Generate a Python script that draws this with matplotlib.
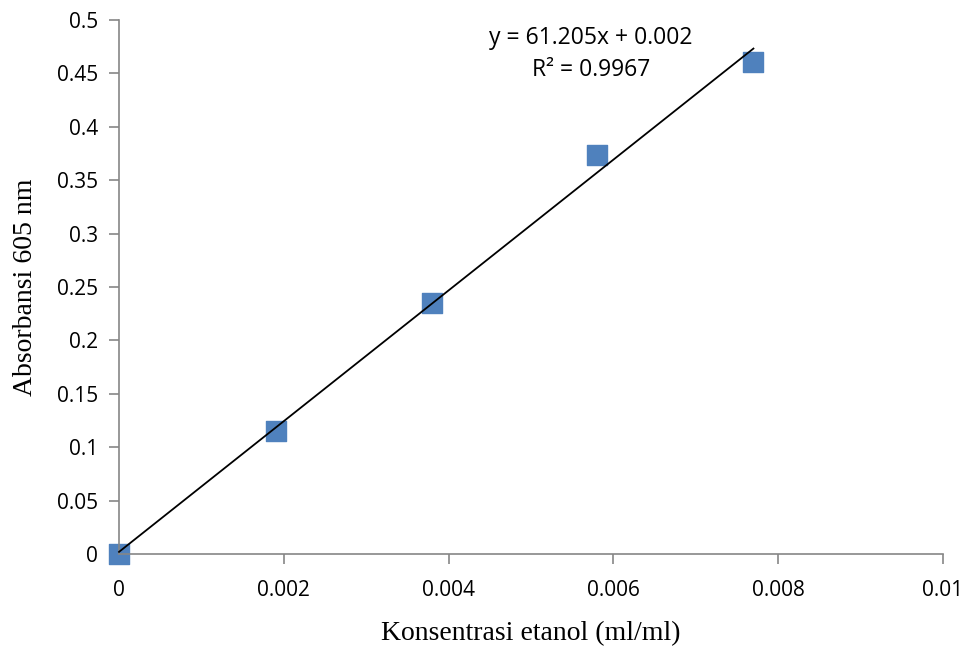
import numpy as np
import matplotlib.pyplot as plt

konsentrasi = [0.0, 0.0019, 0.0038, 0.0058, 0.0077]
absorbansi = [0.0, 0.115, 0.235, 0.374, 0.461]
slope = 61.205
intercept = 0.002
r2 = 0.9967

x_ticks = [0, 0.002, 0.004, 0.006, 0.008, 0.01]
x_labels = ['0', '0.002', '0.004', '0.006', '0.008', '0.01']
y_ticks = [0, 0.05, 0.1, 0.15, 0.2, 0.25, 0.3, 0.35, 0.4, 0.45, 0.5]
y_labels = ['0', '0.05', '0.1', '0.15', '0.2', '0.25', '0.3', '0.35', '0.4', '0.45', '0.5']

fig = plt.figure(figsize=(9.67, 6.46), dpi=100)
ax = fig.add_axes([0.1231, 0.1424, 0.852, 0.8266])

ax.scatter(konsentrasi, absorbansi, marker='s', s=200, color='#4F81BD', zorder=2, clip_on=False)

fitx = np.array([0, max(konsentrasi)])
fity = slope * fitx + intercept
ax.plot(fitx, fity, color='black', linewidth=1.3, zorder=3, clip_on=False)

ax.set_xlim(0, 0.01)
ax.set_ylim(0, 0.5)
ax.set_xticks(x_ticks)
ax.set_xticklabels(x_labels)
ax.set_yticks(y_ticks)
ax.set_yticklabels(y_labels)

for side in ['top', 'right']:
    ax.spines[side].set_visible(False)
for side in ['left', 'bottom']:
    ax.spines[side].set_color('#868686')
    ax.spines[side].set_linewidth(1.2)
ax.tick_params(axis='both', direction='out', length=7, width=1.2, color='#868686',
               labelsize=15, pad=8)
for lbl in ax.get_xticklabels() + ax.get_yticklabels():
    lbl.set_fontfamily('Open Sans')
ax.tick_params(axis='x', pad=12)

ax.set_xlabel('Konsentrasi etanol (ml/ml)', fontsize=20, family='Liberation Serif', labelpad=14)
ax.set_ylabel('Absorbansi 605 nm', fontsize=20, family='Liberation Serif', labelpad=14)

ax.text(0.00573, 0.4686, 'y = 61.205x + 0.002\nR² = %.4f' % r2, ha='center', va='center',
        fontsize=16.5, family='Open Sans', linespacing=1.45)

plt.savefig('out.png', dpi=100)
